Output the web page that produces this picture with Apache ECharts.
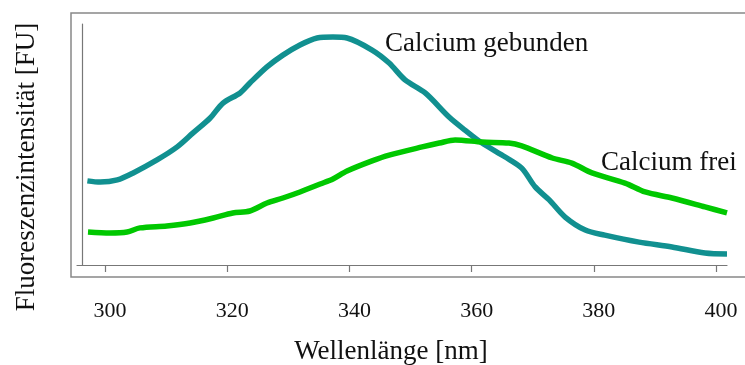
<!DOCTYPE html>
<html>
<head>
<meta charset="utf-8">
<script src="https://cdn.jsdelivr.net/npm/echarts@6/dist/echarts.min.js"></script>
<style>
	html, body { margin: 0; padding: 0; background: #fff; }
	#chart { width: 745px; height: 365px; }
</style>
</head>
<body>
<div id="chart"></div>
<script>
//Wellenlänge [nm] + Fluoreszenz (willkürliche Einheiten 0-100)
const gebundenX = [297.1, 299.2, 302.0, 304.6, 308.5, 311.8, 314.4, 317.2, 319.3, 322.1, 323.7, 326.5, 329.1, 331.9, 334.7, 337.3, 339.6, 343.7, 346.5, 349.1, 352.4, 356.3, 358.9, 361.7, 365.5, 368.2, 370.4, 372.7, 375.3, 378.6, 381.8, 387.4, 392.8, 398.2, 401.8];
const gebundenY = [34.9, 34.4, 35.3, 38.2, 43.6, 49.0, 54.8, 61.0, 67.2, 71.4, 75.5, 82.2, 87.1, 91.3, 94.2, 94.6, 94.2, 89.2, 83.8, 76.8, 71.4, 61.4, 56.0, 50.6, 44.8, 40.2, 32.4, 27.0, 19.9, 14.5, 12.4, 9.5, 7.5, 5.0, 4.6];

const freiX = [297.2, 300.8, 303.6, 305.7, 310.1, 313.9, 317.7, 320.9, 323.7, 326.5, 329.1, 331.9, 335.2, 337.3, 339.6, 343.7, 346.5, 351.9, 354.7, 357.3, 361.7, 366.1, 368.2, 373.2, 376.4, 379.7, 385.1, 388.4, 392.8, 398.2, 401.8];
const freiY = [13.7, 13.3, 13.7, 15.4, 16.2, 17.4, 19.5, 21.6, 22.4, 25.7, 27.8, 30.3, 33.6, 35.7, 39.0, 43.2, 45.6, 49.0, 50.6, 51.9, 51.0, 50.6, 49.4, 44.4, 42.3, 38.2, 34.0, 30.3, 27.8, 24.1, 21.6];

const xTicks = [300, 320, 340, 360, 380, 400];

function toPairs(xs, ys) {
	let out = [];
	for (let i in xs) {
		out.push([xs[i], ys[i]]);
	}
	return out;
}

const myCharts = echarts.init(document.getElementById('chart'));

const font = '"Liberation Serif", "Times New Roman", serif';

let option = {
	animation: false,
	grid: {
		left: 77,
		right: 18,
		top: 24,
		bottom: 100,
		outerBoundsMode: 'none'
	},
	xAxis: {
		type: 'value',
		min: 295.4,
		max: 401.8,
		name: 'Wellenlänge [nm]',
		nameLocation: 'middle',
		nameGap: 73,
		nameTextStyle: {
			fontFamily: font,
			fontSize: 27,
			color: '#111',
			padding: [0, 22, 0, 0]
		},
		axisLine: { lineStyle: { color: '#777', width: 1.2 } },
		axisTick: {
			customValues: xTicks,
			length: 7,
			lineStyle: { color: '#777', width: 1.2 }
		},
		axisLabel: {
			customValues: xTicks,
			margin: 35,
			fontFamily: font,
			fontSize: 22,
			color: '#111',
			padding: [0, 0, 0, 10]
		},
		splitLine: { show: false }
	},
	yAxis: {
		type: 'value',
		min: 0,
		max: 100,
		offset: -5,
		name: 'Fluoreszenzintensität [FU]',
		nameLocation: 'middle',
		nameRotate: 90,
		nameGap: 42,
		nameTextStyle: {
			fontFamily: font,
			fontSize: 27,
			color: '#111',
			padding: [0, 45, 0, 0]
		},
		axisLine: { show: true, lineStyle: { color: '#777', width: 1.2 } },
		axisTick: { show: false },
		axisLabel: { show: false },
		splitLine: { show: false }
	},
	graphic: [
		{
			type: 'rect',
			shape: { x: 71, y: 13, width: 700, height: 264 },
			style: { fill: null, stroke: '#888', lineWidth: 1.5 },
			silent: true
		},
		{
			type: 'text',
			left: 385,
			top: 30,
			style: { text: 'Calcium gebunden', font: '27px ' + font, fill: '#111' }
		},
		{
			type: 'text',
			left: 601,
			top: 149,
			style: { text: 'Calcium frei', font: '27px ' + font, fill: '#111' }
		}
	],
	series: [
		{
			name: 'Calcium gebunden',
			type: 'line',
			showSymbol: false,
			smooth: 0.3,
			lineStyle: { color: '#119090', width: 5.5 },
			data: toPairs(gebundenX, gebundenY)
		},
		{
			name: 'Calcium frei',
			type: 'line',
			showSymbol: false,
			smooth: 0.3,
			lineStyle: { color: '#00c800', width: 5.5 },
			data: toPairs(freiX, freiY)
		}
	]
};

myCharts.setOption(option);
</script>
</body>
</html>
